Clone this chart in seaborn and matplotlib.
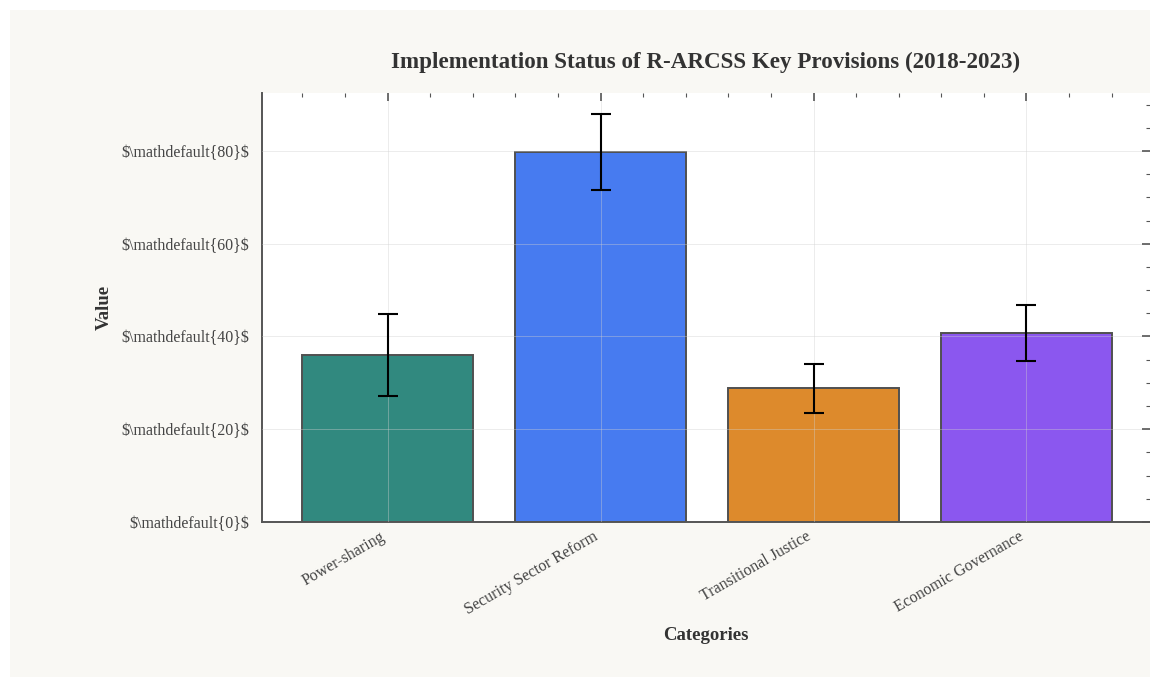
import seaborn as sns
import matplotlib.pyplot as plt
from matplotlib.patches import Rectangle
from matplotlib.ticker import AutoMinorLocator, FixedLocator

# Datos
categorias = ["Power-sharing", "Security Sector Reform",
              "Transitional Justice", "Economic Governance"]
valores = [36.0, 79.8, 28.8, 40.7]
errores = [8.8, 8.2, 5.2, 6.0]
colores = ["#31897f", "#477bf0", "#dd8a2c", "#8b57ef"]
ticks_y = [0, 20, 40, 60, 80]
etiquetas_y = [r"\$\mathdefault{%d}\$" % v for v in ticks_y]

sns.set_style("white")
plt.rcParams["font.family"] = ["Liberation Serif", "DejaVu Serif"]

fig = plt.figure(figsize=(11.5, 6.77), dpi=100, facecolor="white")
# fondo beige con margen blanco arriba e izquierda
fig.patches.append(Rectangle((10 / 1150, 0), 1, 1 - 10 / 677,
                             transform=fig.transFigure, facecolor="#f9f8f4",
                             edgecolor="none", zorder=-10))

ax = fig.add_axes([0.2278, 0.229, 0.7722, 0.6336])
ax.set_facecolor("white")

sns.barplot(x=categorias, y=valores, hue=categorias, palette=colores,
            legend=False, width=0.8, edgecolor="#505050", linewidth=1.4,
            errorbar=None, saturation=1, ax=ax)
ax.errorbar(range(len(categorias)), valores, yerr=errores, fmt="none",
            ecolor="black", elinewidth=1.5, capsize=7, capthick=1.5, zorder=5)

ax.set_xlim(-0.59, 3.58)
ax.set_ylim(0, 92.5)
ax.yaxis.set_major_locator(FixedLocator(ticks_y))
ax.set_yticklabels(etiquetas_y, fontsize=11.5, color="#444444")
ax.yaxis.set_minor_locator(AutoMinorLocator(4))
ax.xaxis.set_minor_locator(AutoMinorLocator(5))
ax.set_xticks(range(len(categorias)))
ax.set_xticklabels(categorias, rotation=30, ha="right", fontsize=11.5,
                   color="#444444")

ax.tick_params(which="both", direction="in", top=True, right=True,
               color="#555555")
ax.tick_params(which="major", length=6, width=1.2, pad=9)
ax.tick_params(axis="x", which="major", pad=5)
ax.tick_params(which="minor", length=3, width=0.8)

for lado in ["top", "right"]:
    ax.spines[lado].set_visible(False)
for lado in ["left", "bottom"]:
    ax.spines[lado].set_color("#555555")
    ax.spines[lado].set_linewidth(1.4)

ax.grid(True, which="major", color="#d0d0d0", alpha=0.4, linewidth=0.7)
ax.set_axisbelow(False)

ax.set_title("Implementation Status of R-ARCSS Key Provisions (2018-2023)",
             fontsize=16.6, fontweight="bold", color="#333333", pad=18)
ax.set_xlabel("Categories", fontsize=13.5, fontweight="bold",
              color="#333333", labelpad=6)
ax.set_ylabel("Value", fontsize=13.5, fontweight="bold", color="#333333",
              labelpad=6)

fig.savefig("out.png", dpi=100, facecolor=fig.get_facecolor())
